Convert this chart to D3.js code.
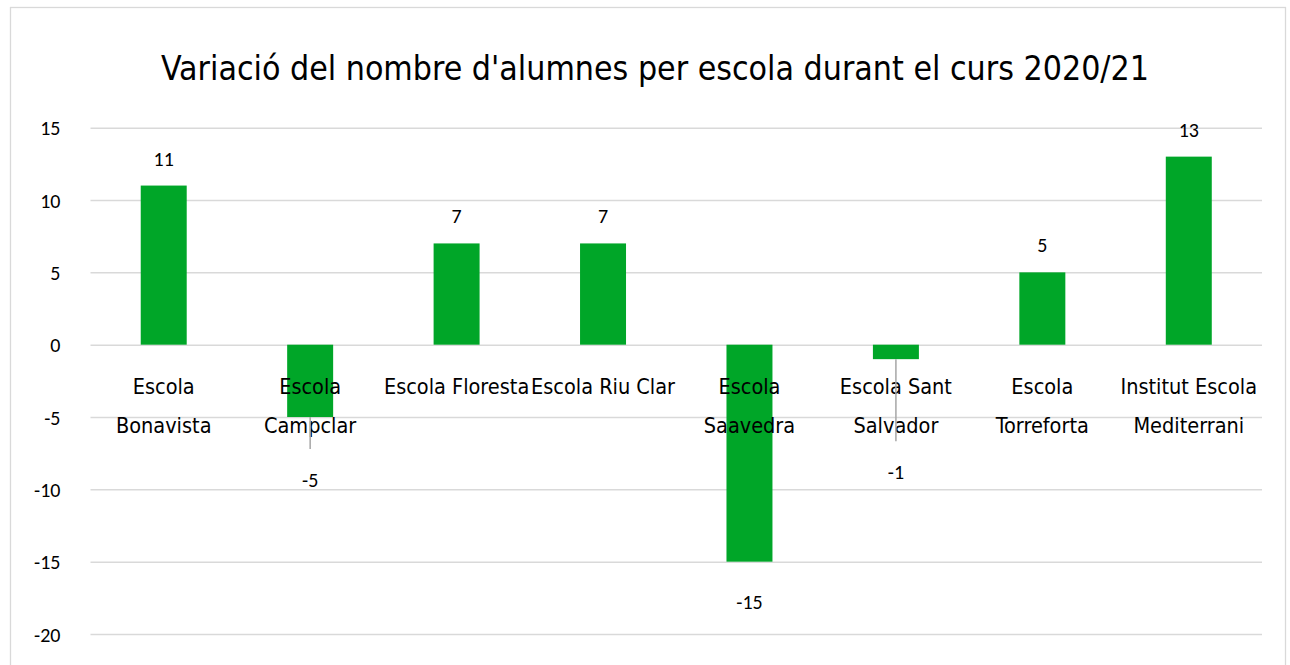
<!DOCTYPE html>
<html>
<head>
<meta charset="utf-8">
<script src="https://cdn.jsdelivr.net/npm/d3@7"></script>
<style>
  html, body { margin: 0; padding: 0; background: #ffffff; }
  svg { display: block; }
</style>
</head>
<body>
<svg id="chart" width="1290" height="665"></svg>
<script>
// ---- data ----
const title = "Variació del nombre d'alumnes per escola durant el curs 2020/21";
const categories = [
  "Escola\nBonavista",
  "Escola\nCampclar",
  "Escola Floresta",
  "Escola Riu Clar",
  "Escola\nSaavedra",
  "Escola Sant\nSalvador",
  "Escola\nTorreforta",
  "Institut Escola\nMediterrani"
];
const values = [11, -5, 7, 7, -15, -1, 5, 13];
const yTicks = [15, 10, 5, 0, -5, -10, -15, -20];

// ---- layout ----
const plot = { left: 90.5, right: 1262, top: 127.7, bottom: 634 };
const condFont = "'Liberation Sans Narrow', 'DejaVu Sans Condensed', 'Arial Narrow', sans-serif";
const numFont = "Carlito, Calibri, Lato, 'Open Sans', sans-serif";
const barColor = "#00a628";
const gridColor = "#d9d9d9";
const fmt = d => String(d); // plain hyphen-minus like the original

const svg = d3.select("#chart");

// chart border
svg.append("rect")
  .attr("x", 10.5).attr("y", 7.5)
  .attr("width", 1275).attr("height", 680)
  .attr("fill", "#fff")
  .attr("stroke", gridColor).attr("stroke-width", 1.3);

// title
svg.append("text")
  .attr("x", 655).attr("y", 70)
  .attr("text-anchor", "middle")
  .attr("dominant-baseline", "middle")
  .style("font-family", condFont)
  .style("font-size", "33.6px")
  .attr("fill", "#000")
  .text(title);

const x = d3.scaleBand()
  .domain(d3.range(categories.length))
  .range([plot.left, plot.right])
  .paddingInner(0.686)
  .paddingOuter(0.343);

const y = d3.scaleLinear()
  .domain([-20, 15])
  .range([plot.bottom, plot.top]);

// gridlines + y axis labels via d3 axis
const yAxis = d3.axisLeft(y)
  .tickValues(yTicks)
  .tickSize(-(plot.right - plot.left))
  .tickPadding(30)
  .tickFormat(fmt);

const gAxis = svg.append("g")
  .attr("transform", `translate(${plot.left},0)`)
  .call(yAxis);
gAxis.select(".domain").remove();
gAxis.selectAll(".tick line")
  .attr("stroke", gridColor)
  .attr("stroke-width", 1.5);
gAxis.selectAll(".tick text")
  .attr("fill", "#000")
  .attr("dy", "0.35em")
  .style("font-family", numFont)
  .style("font-size", "20px");

// bars
svg.append("g").selectAll("rect")
  .data(values)
  .join("rect")
  .attr("x", (d, i) => x(i))
  .attr("width", x.bandwidth())
  .attr("y", d => y(Math.max(0, d)))
  .attr("height", d => Math.abs(y(d) - y(0)))
  .attr("fill", barColor);

// category labels (placed just below zero line)
const catG = svg.append("g");
categories.forEach((c, i) => {
  const lines = c.split("\n");
  const t = catG.append("text")
    .attr("text-anchor", "middle")
    .style("font-family", condFont)
    .style("font-size", "21.5px")
    .attr("fill", "#000");
  lines.forEach((ln, k) => {
    t.append("tspan")
      .attr("x", x(i) + x.bandwidth() / 2)
      .attr("y", y(0) + 49 + k * 39)
      .text(ln);
  });
});

// data labels (Excel style: moved labels with leader lines for some negatives)
const labelShift = { 1: 63, 5: 113 };
const labelG = svg.append("g");
values.forEach((v, i) => {
  const cx = x(i) + x.bandwidth() / 2;
  let cy;
  if (v >= 0) {
    cy = y(v) - 27;
  } else {
    const shift = labelShift[i] !== undefined ? labelShift[i] : 40;
    cy = y(v) + shift;
    if (labelShift[i] !== undefined) {
      labelG.append("line")
        .attr("x1", cx).attr("x2", cx)
        .attr("y1", y(v)).attr("y2", cy - 31)
        .attr("stroke", "#a6a6a6")
        .attr("stroke-width", 1.5);
    }
  }
  labelG.append("text")
    .attr("x", cx).attr("y", cy)
    .attr("dy", "0.35em")
    .attr("text-anchor", "middle")
    .style("font-family", numFont)
    .style("font-size", "20px")
    .attr("fill", "#000")
    .text(fmt(v));
});
</script>
</body>
</html>
